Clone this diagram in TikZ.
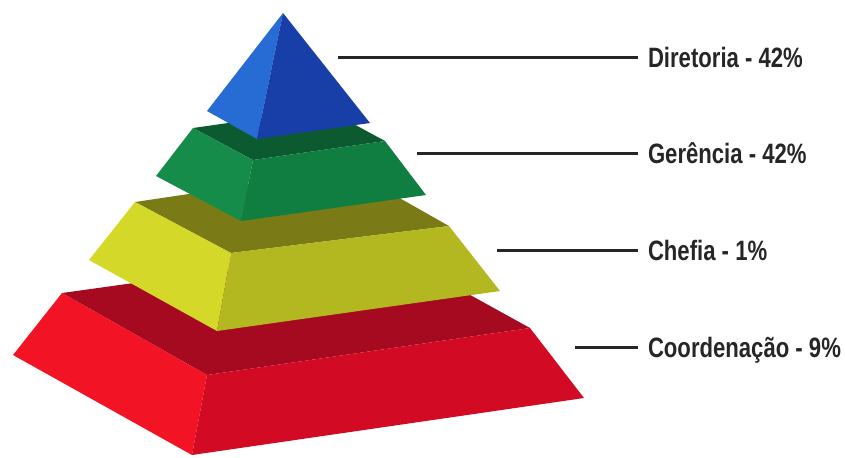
\documentclass[tikz,border=0pt]{standalone}
\usepackage{fontspec}
\setmainfont{Liberation Sans}[FakeStretch=0.79]

\definecolor{azulclaro}{RGB}{38,108,212}
\definecolor{azulescuro}{RGB}{24,62,168}
\definecolor{verdetopo}{RGB}{12,90,48}
\definecolor{verdeesq}{RGB}{22,140,74}
\definecolor{verdefrente}{RGB}{16,126,64}
\definecolor{amarelotopo}{RGB}{122,122,22}
\definecolor{amareloesq}{RGB}{212,216,40}
\definecolor{amarelofrente}{RGB}{180,184,32}
\definecolor{vermelhotopo}{RGB}{165,10,32}
\definecolor{vermelhoesq}{RGB}{242,20,36}
\definecolor{vermelhofrente}{RGB}{210,10,36}

\tikzset{
  rotulo/.style={anchor=west, font=\bfseries\fontsize{14}{14}\selectfont,
    text=black!85, inner sep=0pt, outer sep=5pt, text height=10pt, text depth=0pt},
  traco/.style={line width=1.5pt, black!85}
}

\begin{document}
\begin{tikzpicture}[x=0.5pt, y=-0.5pt]
        \useasboundingbox (0,0) rectangle (845,457);

        % Coordenação (base vermelha)
        \fill[vermelhotopo] (62,293) -- (385,248) -- (530,328) -- (207,375) -- cycle;
        \fill[vermelhoesq] (62,293) -- (207,375) -- (192,455) -- (13,355) -- cycle;
        \fill[vermelhofrente] (207,375) -- (530,328) -- (584,398) -- (192,455) -- cycle;

        % Chefia (amarelo)
        \fill[amarelotopo] (135,202) -- (350,170) -- (449,226) -- (231,253) -- cycle;
        \fill[amareloesq] (135,202) -- (231,253) -- (217,331) -- (89,260) -- cycle;
        \fill[amarelofrente] (231,253) -- (449,226) -- (500,291) -- (217,331) -- cycle;

        % Gerência (verde)
        \fill[verdetopo] (193,128) -- (326,109) -- (385,141) -- (253,160) -- cycle;
        \fill[verdeesq] (193,128) -- (253,160) -- (241,221) -- (156,176) -- cycle;
        \fill[verdefrente] (253,160) -- (385,141) -- (426,195) -- (241,221) -- cycle;

        % Diretoria (pirâmide azul)
        \fill[azulclaro] (283,13) -- (207,111) -- (257,139) -- cycle;
        \fill[azulescuro] (283,13) -- (257,139) -- (370,123) -- cycle;

        % Rótulos
        \node[rotulo] (dir) at (638,57) {Diretoria - 42\%};
        \node[rotulo] (ger) at (638,153) {Gerência - 42\%};
        \node[rotulo] (che) at (638,250) {Chefia - 1\%};
        \node[rotulo] (coo) at (638,347) {Coordenação - 9\%};

        % Linhas
        \coordinate (dirS) at (338,57);
        \coordinate (gerS) at (417,153);
        \coordinate (cheS) at (497,250);
        \coordinate (cooS) at (575,347);
        \draw[traco] (dirS) -- (dir);
        \draw[traco] (gerS) -- (ger);
        \draw[traco] (cheS) -- (che);
        \draw[traco] (cooS) -- (coo);
    \end{tikzpicture}
\end{document}
